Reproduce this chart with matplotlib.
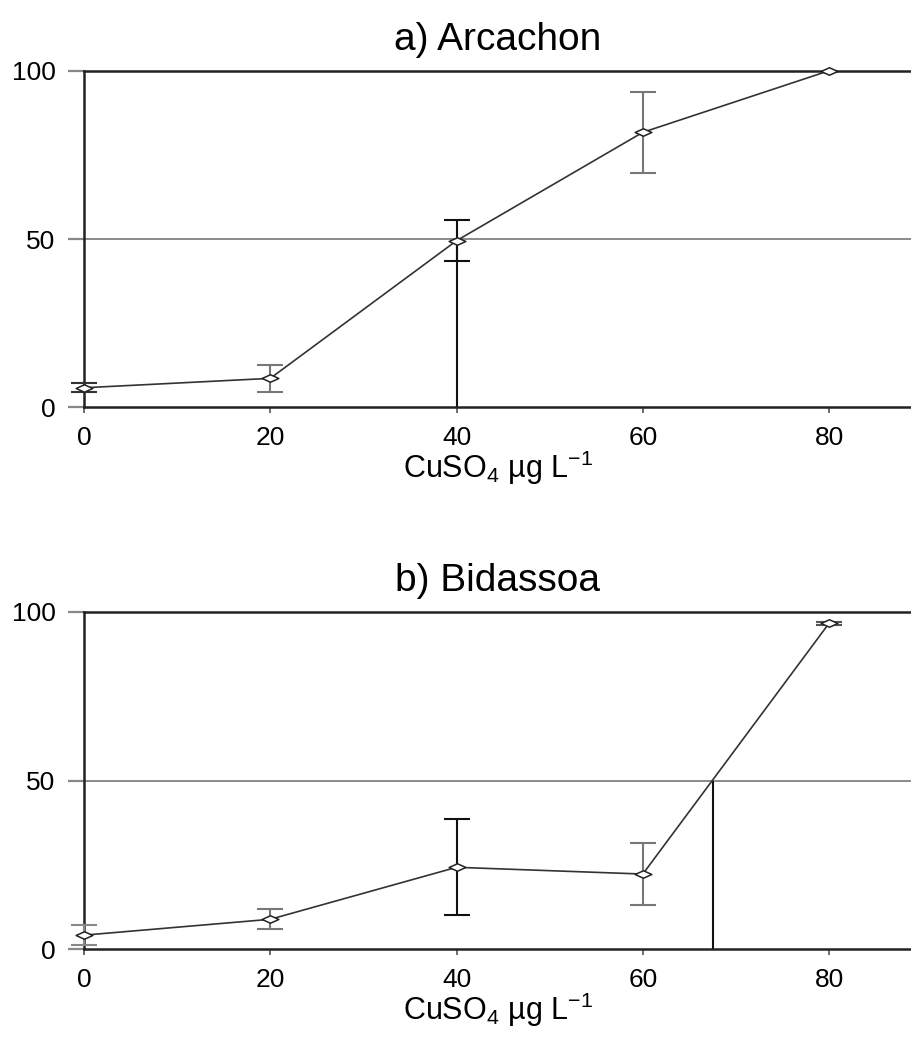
import matplotlib
matplotlib.use("Agg")
import matplotlib.pyplot as plt
from matplotlib.path import Path

plt.rcParams["font.family"] = ["Liberation Sans", "DejaVu Sans"]
plt.rcParams["mathtext.default"] = "regular"

# CuSO4 concentration (ug/L)
conc = [0, 20, 40, 60, 80]

# a) Arcachon: mean response and error
arc_mean = [5.8, 8.6, 49.5, 81.7, 100.0]
arc_err = [1.3, 4.0, 6.0, 12.0, 0.0]
arc_ec50 = 40.0

# b) Bidassoa
bid_mean = [4.2, 8.9, 24.3, 22.3, 96.6]
bid_err = [3.0, 3.0, 14.2, 9.1, 0.5]
bid_ec50 = 67.5

titles = ["a) Arcachon", "b) Bidassoa"]
yticks = [0, 50, 100]
xticks = [0, 20, 40, 60, 80]

# error bar colours per point (black bar at 40 in both panels)
err_colors = [
    ["#333333", "#777777", "#111111", "#777777", "#777777"],
    ["#888888", "#777777", "#111111", "#777777", "#555555"],
]

# flat open diamond, wider than tall
DIAMOND = Path([(-1, 0), (0, 0.45), (1, 0), (0, -0.45), (-1, 0)],
               [Path.MOVETO, Path.LINETO, Path.LINETO, Path.LINETO, Path.CLOSEPOLY])

fig = plt.figure(figsize=(9.12, 10.43), dpi=100)
ax_a = fig.add_axes([0.0921, 0.6095, 0.9079, 0.3227])
ax_b = fig.add_axes([0.0921, 0.0898, 0.9079, 0.3237])

panels = [
    (ax_a, arc_mean, arc_err, arc_ec50),
    (ax_b, bid_mean, bid_err, bid_ec50),
]

for i, (ax, mean, err, ec50) in enumerate(panels):
    ax.set_xlim(0, 88.9)
    ax.set_ylim(0, 100)

    # 50 % reference line and EC50 drop line
    ax.axhline(50, color="#8a8a8a", lw=1.4, zorder=1)
    ax.vlines(ec50, 0, 50, color="#111111", lw=1.5, zorder=2)

    for x, m, e, c in zip(conc, mean, err, err_colors[i]):
        if e > 0:
            ax.errorbar(x, m, yerr=e, fmt="none", ecolor=c, elinewidth=1.5,
                        capsize=9.5, capthick=1.5, zorder=3, clip_on=False)

    ax.plot(conc, mean, color="#333333", lw=1.2, marker=DIAMOND, markersize=12,
            markerfacecolor="white", markeredgecolor="#222222", markeredgewidth=1.1,
            zorder=4, clip_on=False)

    ax.spines["right"].set_visible(False)
    for side in ("left", "bottom", "top"):
        ax.spines[side].set_color("#222222")
        ax.spines[side].set_linewidth(1.8)

    ax.set_xticks(xticks)
    ax.set_yticks(yticks)
    ax.tick_params(axis="y", direction="out", length=11.5, width=1.6,
                   color="#888888", pad=9, labelsize=19)
    ax.tick_params(axis="x", direction="out", length=4.5, width=1.2,
                   color="#555555", pad=9, labelsize=19)

    ax.set_title(titles[i], fontsize=28, pad=15)
    ax.set_xlabel(r"CuSO$_4$ µg L$^{-1}$", fontsize=22, labelpad=-1)

fig.savefig("out.png", dpi=100)
